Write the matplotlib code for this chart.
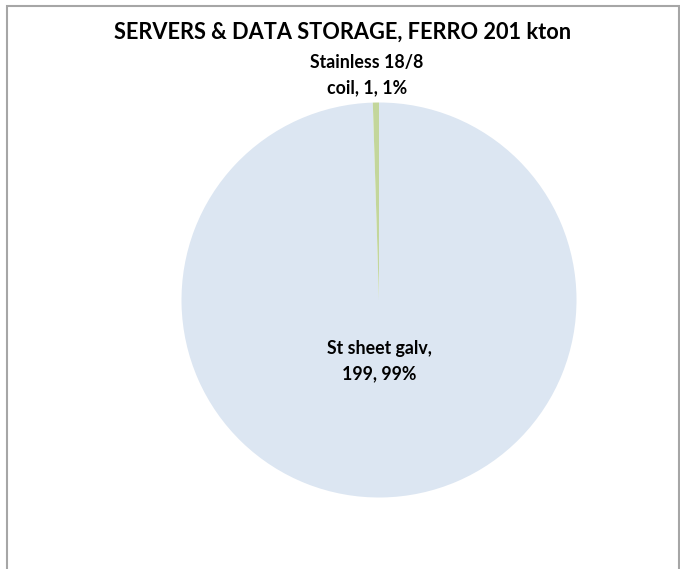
import matplotlib
matplotlib.use("Agg")
import matplotlib.pyplot as plt
from matplotlib.patches import Rectangle

W, H = 680, 569
DPI = 100

title = "SERVERS & DATA STORAGE, FERRO 201 kton"
categories = ["St sheet galv", "Stainless 18/8\ncoil"]
values = [199, 1]
percents = ["99%", "1%"]
colors = ["#DCE6F2", "#C3D69B"]

plt.rcParams['font.family'] = ['Lato', 'DejaVu Sans']

fig = plt.figure(figsize=(W / DPI, H / DPI), dpi=DPI)

def fx(px):
    return px / W

def fy(py):
    return 1 - py / H

# outer frame
fig.patches.append(Rectangle((fx(7), fy(575)), fx(679) - fx(7), fy(6) - fy(575),
                             transform=fig.transFigure, fill=False,
                             edgecolor="#A6A6A6", linewidth=1.5))

cx, cy, r = 379, 300, 197.5
ax = fig.add_axes([fx(cx - r), fy(cy + r), 2 * r / W, 2 * r / H])
wedges, _ = ax.pie(values, colors=colors, startangle=90, counterclock=False,
                   radius=1, wedgeprops=dict(linewidth=0))
ax.set_xlim(-1, 1)
ax.set_ylim(-1, 1)
ax.set_aspect("auto")
ax.axis("off")

fig.text(fx(343), fy(32), title, ha="center", va="center",
         fontsize=15.7, fontweight="bold", color="#000000")

labels = [f"{c}, {v}, {p}" for c, v, p in zip(categories, values, percents)]
main_label = labels[0].replace("galv, ", "galv,\n")
fig.text(fx(cx), fy(361), main_label, ha="center", va="center",
         fontsize=12.8, fontweight="bold", color="#000000", linespacing=1.63)
fig.text(fx(367), fy(75), labels[1], ha="center", va="center",
         fontsize=12.8, fontweight="bold", color="#000000", linespacing=1.63)

fig.savefig("out.png", dpi=DPI)
